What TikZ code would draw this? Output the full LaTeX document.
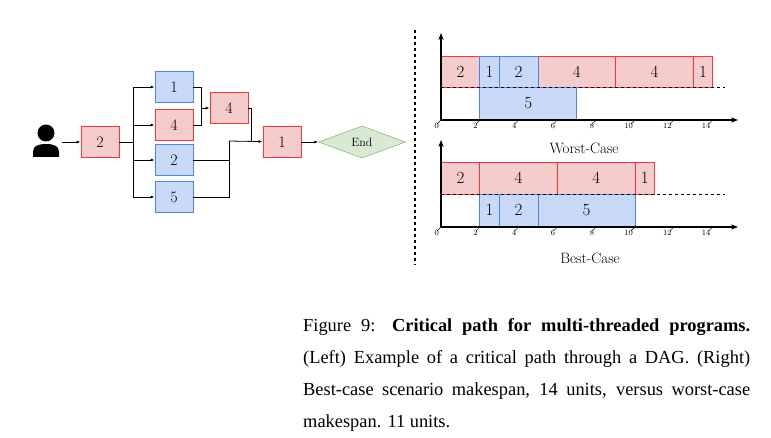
\documentclass[tikz,border=0pt]{standalone}
\usepackage{fontspec}
\newfontfamily\capfont{Liberation Serif}
\usetikzlibrary{shapes.geometric,arrows.meta}
\definecolor{rfill}{HTML}{F4CCCC}
\definecolor{rdraw}{HTML}{FF3333}
\definecolor{bfill}{HTML}{C9DAF8}
\definecolor{bdraw}{HTML}{4A86E8}
\definecolor{gfill}{HTML}{D9EAD3}
\definecolor{gdraw}{HTML}{6AA84F}
\begin{document}
\begin{tikzpicture}[x=1pt,y=-1pt,
  rbox/.style={draw=rdraw,fill=rfill,thick,minimum width=38pt,minimum height=31pt,inner sep=0pt,font=\fontsize{16}{16}\selectfont},
  bbox/.style={draw=bdraw,fill=bfill,thick,minimum width=38pt,minimum height=31pt,inner sep=0pt,font=\fontsize{16}{16}\selectfont},
  edge/.style={-{Latex[length=4pt]},line width=0.8pt},
  ln/.style={line width=0.8pt},
  gr/.style={draw=rdraw,fill=rfill,thick},
  gb/.style={draw=bdraw,fill=bfill,thick},
  gt/.style={font=\fontsize{17}{17}\selectfont},
  ax/.style={-{Stealth[length=7pt]},line width=1.3pt},
  tk/.style={font=\fontsize{8}{8}\selectfont,anchor=north east,inner sep=1pt}
]
\useasboundingbox (0,0) rectangle (771,438);
% person
\node (user) at (46,142) {};
\fill (46,133) circle (8.5);
\fill (33,157) -- (33,152) .. controls (33,146) and (38,144) .. (46,144) .. controls (54,144) and (59,146) .. (59,152) -- (59,157) -- cycle;
\node[rbox] (a) at (100,142) {2};
\node[bbox] (b1) at (174,87) {1};
\node[rbox] (b4) at (174,125) {4};
\node[bbox] (b2) at (174,160) {2};
\node[bbox] (b5) at (174,197) {5};
\node[rbox] (c4) at (229,108) {4};
\node[rbox] (d1) at (282,142) {1};
\node[diamond,aspect=2.7,draw=gdraw,fill=gfill,inner sep=1pt,minimum width=87pt,minimum height=32pt,font=\fontsize{12}{12}\selectfont] (end) at (362,142) {End};
\draw[edge] (62,142) -- (a);
\coordinate (s) at (133,142);
\draw[ln] (a) -- (s);
\foreach \n in {b1,b4,b2,b5} \draw[edge] (s) |- (\n);
\coordinate (m) at (201,108);
\draw[ln] (b1.east) -| (m);
\draw[ln] (b4.east) -| (m);
\draw[edge] (m) -- (c4);
\coordinate (m2) at (229,141);
\draw[ln] (c4.east) -| (251,142);
\draw[ln] (b2.east) -| (m2);
\draw[ln] (b5.east) -| (m2);
\draw[edge] (m2) -- (d1);
\draw[edge] (d1) -- (end);
% divider
\draw[dashed,line width=1.5pt] (415,30) -- (415,265);
% worst case chart
\def\u{19.4}
\foreach \a/\b/\t in {0/2/2,5/9/4,9/13/4,13/14/1}
  \draw[gr] (441+\a*\u,56) rectangle node[gt]{\t} (441+\b*\u,87);
\foreach \a/\b/\t in {2/3/1,3/5/2}
  \draw[gb] (441+\a*\u,56) rectangle node[gt]{\t} (441+\b*\u,87);
\draw[gb] (441+2*\u,87) rectangle node[gt]{5} (441+7*\u,119);
\draw[dashed,thin] (441,87) -- (725,87);
\draw[ax] (441,120) -- (441,33);
\draw[ax] (441,120) -- (738,120);
\foreach \v in {0,2,...,14} {\draw (441+\v*\u,120) -- ++(-4,4); \node[tk] at (441+\v*\u-1,122) {\v};}
\node[font=\fontsize{15}{15}\selectfont] (wc) at (584,148) {Worst-Case};
% best case chart
\foreach \a/\b/\t in {0/2/2,2/6/4,6/10/4,10/11/1}
  \draw[gr] (441+\a*\u,162) rectangle node[gt]{\t} (441+\b*\u,194);
\foreach \a/\b/\t in {2/3/1,3/5/2,5/10/5}
  \draw[gb] (441+\a*\u,194) rectangle node[gt]{\t} (441+\b*\u,226);
\draw[dashed,thin] (441,194) -- (725,194);
\draw[ax] (441,227) -- (441,140);
\draw[ax] (441,227) -- (738,227);
\foreach \v in {0,2,...,14} {\draw (441+\v*\u,227) -- ++(-4,4); \node[tk] at (441+\v*\u-1,229) {\v};}
\node[font=\fontsize{15}{15}\selectfont] (bc) at (590,258) {Best-Case};
% caption
\node[anchor=north west,inner sep=0pt,text width=447pt,align=justify,font=\capfont\fontsize{18.4}{32}\selectfont] (cap) at (303,318)
{\hyphenpenalty=10000 Figure 9: \textbf{Critical path for multi-threaded programs.} (Left) Example of a critical path through a DAG. (Right) Best-case scenario makespan, 14 units, versus worst-case makespan. 11 units.};
\end{tikzpicture}
\end{document}
